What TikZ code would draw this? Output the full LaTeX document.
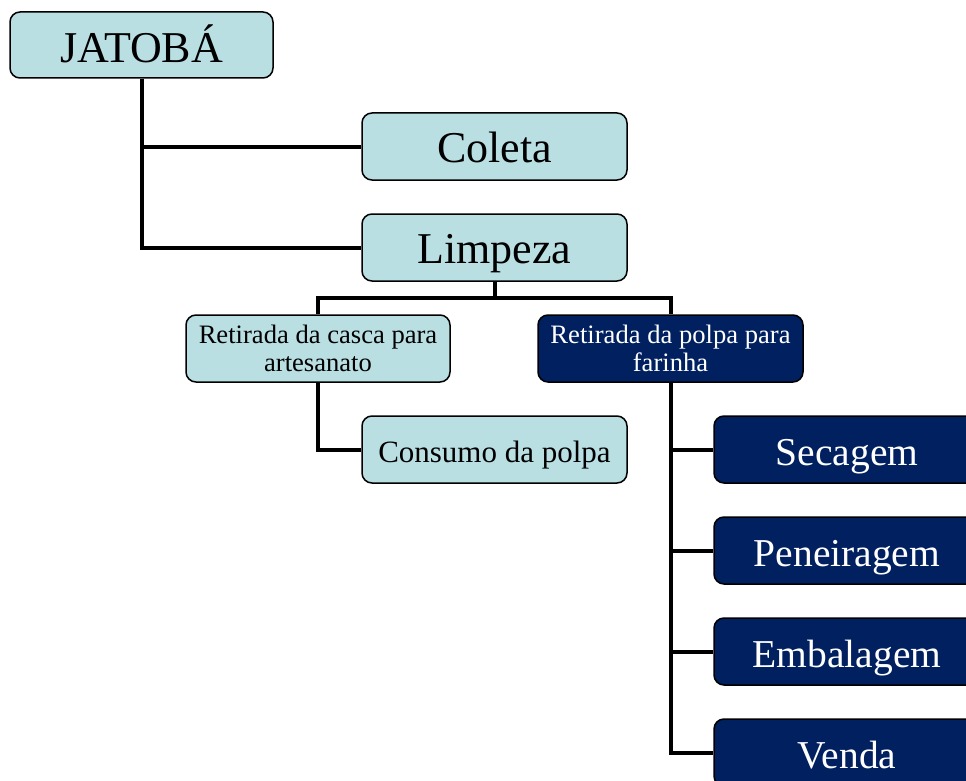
\documentclass[tikz,border=0pt]{standalone}
\usepackage{fontspec}
\setmainfont{Liberation Serif}
\definecolor{lightbox}{HTML}{B9DFE3}
\definecolor{darkbox}{HTML}{002060}
\begin{document}
\begin{tikzpicture}[x=1pt,y=-1pt,
  box/.style={draw=black, line width=1.5pt, rounded corners=10pt, inner sep=0pt, align=center},
  lightb/.style={box, fill=lightbox, text=black},
  darkb/.style={box, fill=darkbox, text=white},
  bigtxt/.style={font=\fontsize{44}{50}\selectfont, text height=31pt, text depth=0pt},
  midtxt/.style={font=\fontsize{39.5}{45}\selectfont, text height=31pt, text depth=0pt},
  smalltxt/.style={font=\fontsize{26.6}{28}\selectfont},
  conn/.style={line width=4pt, line join=miter}]
\useasboundingbox (0,0) rectangle (966,781);
\clip (0,0) rectangle (966,781);
\fill[white] (0,0) rectangle (966,781);
\node[lightb, minimum width=263pt, minimum height=66pt, font=\fontsize{44}{50}\selectfont, text height=36pt, text depth=0pt] (jat) at (141.5,45) {JATOBÁ};
\node[lightb, bigtxt, minimum width=265pt, minimum height=67pt] (col) at (494.5,146.5) {Coleta};
\node[lightb, bigtxt, minimum width=265pt, minimum height=67pt] (lim) at (494.5,247.5) {Limpeza};
\node[lightb, smalltxt, minimum width=264pt, minimum height=67pt] (cas) at (318,348.5) {Retirada da casca para\\artesanato};
\node[darkb, smalltxt, minimum width=265pt, minimum height=67pt] (pol) at (670.5,348.5) {Retirada da polpa para\\farinha};
\node[lightb, minimum width=265pt, minimum height=67pt, font=\fontsize{31}{36}\selectfont, text height=25pt, text depth=0pt] (con) at (494.5,449.5) {Consumo da polpa};
\node[darkb, midtxt, minimum width=266pt, minimum height=67pt] (sec) at (847,449.5) {Secagem};
\node[darkb, midtxt, minimum width=266pt, minimum height=67pt] (pen) at (847,550.5) {Peneiragem};
\node[darkb, midtxt, minimum width=266pt, minimum height=67pt] (emb) at (847,651.5) {Embalagem};
\node[darkb, midtxt, minimum width=266pt, minimum height=67pt] (ven) at (847,752.5) {Venda};
\draw[conn] (jat.south) |- (col.west);
\draw[conn] (jat.south) |- (lim.west);
\draw[conn] (lim.south) -- ++(0,16) coordinate (lb) -| (cas.north);
\draw[conn] (lb) -| (pol.north);
\draw[conn] (cas.south) |- (con.west);
\draw[conn] (pol.south) |- (sec.west);
\draw[conn] (pol.south) |- (pen.west);
\draw[conn] (pol.south) |- (emb.west);
\draw[conn] (pol.south) |- (ven.west);
\end{tikzpicture}
\end{document}
